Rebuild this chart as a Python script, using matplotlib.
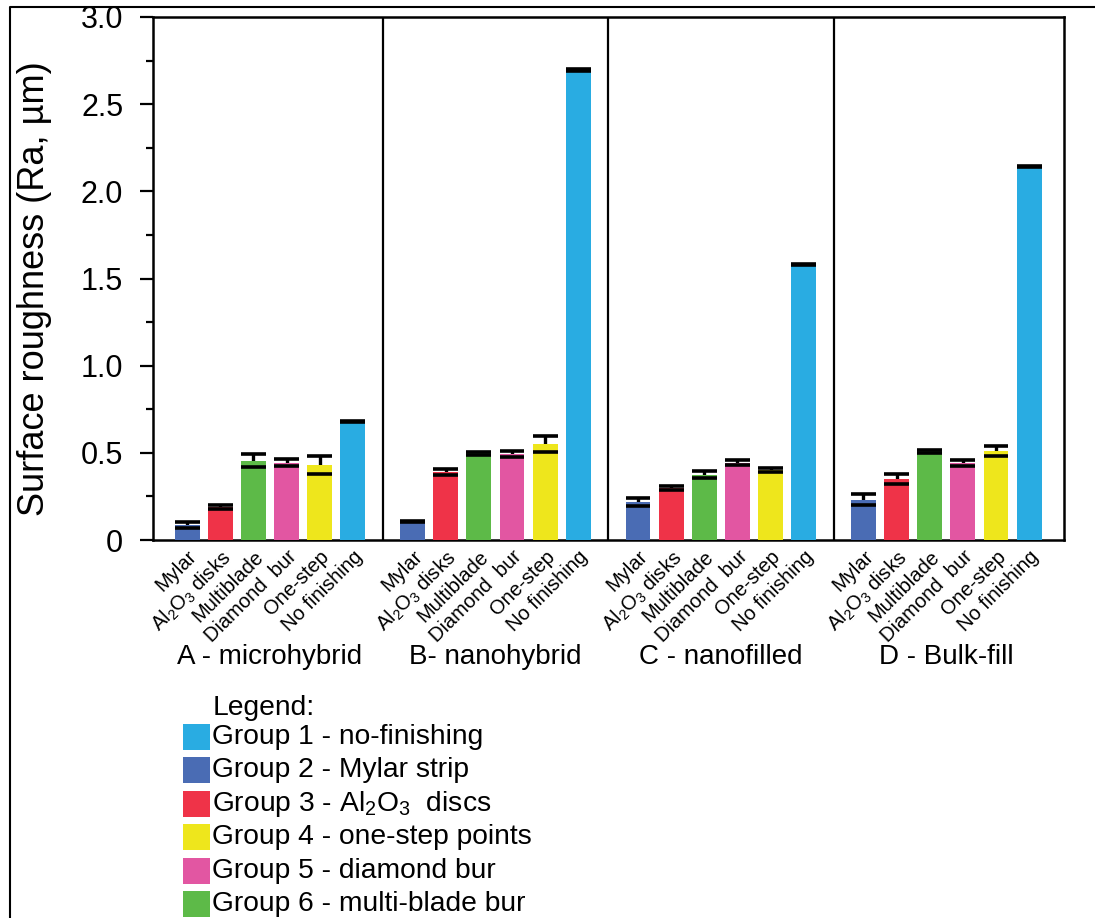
import matplotlib
matplotlib.use("Agg")
import matplotlib.pyplot as plt
from matplotlib.patches import Rectangle
from matplotlib.lines import Line2D
import numpy as np

plt.rcParams["font.family"] = ["Liberation Sans", "DejaVu Sans"]
plt.rcParams["mathtext.fontset"] = "custom"
plt.rcParams["mathtext.rm"] = "Liberation Sans"
plt.rcParams["mathtext.it"] = "Liberation Sans:italic"
plt.rcParams["mathtext.bf"] = "Liberation Sans:bold"

# ---- data -------------------------------------------------------------
materials = ["A - microhybrid", "B- nanohybrid", "C - nanofilled", "D - Bulk-fill"]
methods = ["Mylar", r"Al$_2$O$_3$ disks", "Multiblade", "Diamond  bur",
           "One-step", "No finishing"]

ra_mean_A = [0.086, 0.190, 0.456, 0.442, 0.430, 0.680]
ra_mean_B = [0.105, 0.390, 0.497, 0.495, 0.550, 2.696]
ra_mean_C = [0.217, 0.297, 0.375, 0.443, 0.401, 1.580]
ra_mean_D = [0.232, 0.350, 0.508, 0.442, 0.510, 2.141]

ra_sd_A = [0.020, 0.013, 0.040, 0.020, 0.050, 0.004]
ra_sd_B = [0.004, 0.020, 0.008, 0.018, 0.046, 0.004]
ra_sd_C = [0.023, 0.012, 0.020, 0.015, 0.011, 0.004]
ra_sd_D = [0.034, 0.026, 0.008, 0.015, 0.028, 0.004]

method_colors = ["#4A6CB4", "#EF3348", "#5DBA48", "#E256A2", "#EEE61C", "#29ACE2"]

legend_labels = ["Group 1 - no-finishing", "Group 2 - Mylar strip",
                 r"Group 3 - Al$_2$O$_3$  discs", "Group 4 - one-step points",
                 "Group 5 - diamond bur", "Group 6 - multi-blade bur"]
legend_colors = ["#29ACE2", "#4A6CB4", "#EF3348", "#EEE61C", "#E256A2", "#5DBA48"]

yticks = [0, 0.5, 1.0, 1.5, 2.0, 2.5, 3.0]
ytick_labels = ["0", "0.5", "1.0", "1.5", "2.0", "2.5", "3.0"]

means = [ra_mean_A, ra_mean_B, ra_mean_C, ra_mean_D]
sds = [ra_sd_A, ra_sd_B, ra_sd_C, ra_sd_D]

# ---- layout -----------------------------------------------------------
W, H = 1095, 918
fig = plt.figure(figsize=(W / 100, H / 100), dpi=100)
ax = fig.add_axes([153 / W, 1 - 540 / H, (1064 - 153) / W, (540 - 17) / H])

group_step = 6.8
bar_w = 0.75
n_m = len(methods)

xs_all, labels_all = [], []
for g, (m, s) in enumerate(zip(means, sds)):
    x = g * group_step + np.arange(n_m)
    m = np.asarray(m)
    s = np.asarray(s)
    ax.bar(x, m, width=bar_w, color=method_colors, zorder=3, linewidth=0)
    # upper whisker stem, then caps at mean +/- sd drawn over the bar
    ax.vlines(x, m, m + s, color="black", linewidth=2.4, zorder=2)
    ax.hlines(m + s, x - bar_w / 2, x + bar_w / 2, color="black",
              linewidth=2.6, zorder=4, capstyle="butt")
    ax.hlines(m - s, x - bar_w / 2, x + bar_w / 2, color="black",
              linewidth=2.6, zorder=4, capstyle="butt")
    xs_all.extend(x)
    labels_all.extend(methods)
    # material name under each group
    ax.text(x.mean(), -0.223, materials[g], transform=ax.get_xaxis_transform(),
            ha="center", va="center", fontsize=20)
    if g < len(means) - 1:
        ax.axvline(g * group_step + n_m - 1 + (group_step - n_m + 1) / 2,
                   color="black", linewidth=1.6, zorder=5)

ax.set_xlim(-1.03, 3 * group_step + n_m - 1 + 1.05)
ax.set_ylim(0, 3.0)

ax.set_xticks(xs_all)
ax.set_xticklabels(labels_all, rotation=45, ha="right", va="top",
                   rotation_mode="anchor", fontsize=14.5)
ax.tick_params(axis="x", length=0, pad=5)

ax.set_yticks(yticks)
ax.set_yticklabels(ytick_labels, fontsize=22)
ax.set_yticks(np.arange(0.25, 3.0, 0.5), minor=True)
ax.tick_params(axis="y", which="major", direction="out", length=9.5, width=1.6, pad=12)
ax.tick_params(axis="y", which="minor", direction="out", length=5, width=1.6)

for sp in ax.spines.values():
    sp.set_linewidth(1.8)

ax.set_ylabel("Surface roughness (Ra, µm)", fontsize=26, va="center")
ax.yaxis.set_label_coords((35 - 153) / (1064 - 153), 0.48)

# ---- legend block -----------------------------------------------------
fig.text(213 / W, 1 - 708 / H, "Legend:", fontsize=20.3, ha="left", va="center")
row0, row_step = 737, 33.4
for i, (lab, col) in enumerate(zip(legend_labels, legend_colors)):
    yc = row0 + i * row_step
    fig.patches.append(Rectangle((183 / W, 1 - (yc + 13) / H), 27 / W, 26 / H,
                                 transform=fig.transFigure, facecolor=col,
                                 edgecolor="none"))
    fig.text(212 / W, 1 - yc / H, lab, fontsize=20.3, ha="left", va="center")

# ---- outer frame --------------------------------------------------------
fig.add_artist(Line2D([10 / W, 10 / W, 1.0], [0.0, 1 - 7 / H, 1 - 7 / H],
                      transform=fig.transFigure, color="black", linewidth=1.5))

fig.savefig("out.png", dpi=100)
